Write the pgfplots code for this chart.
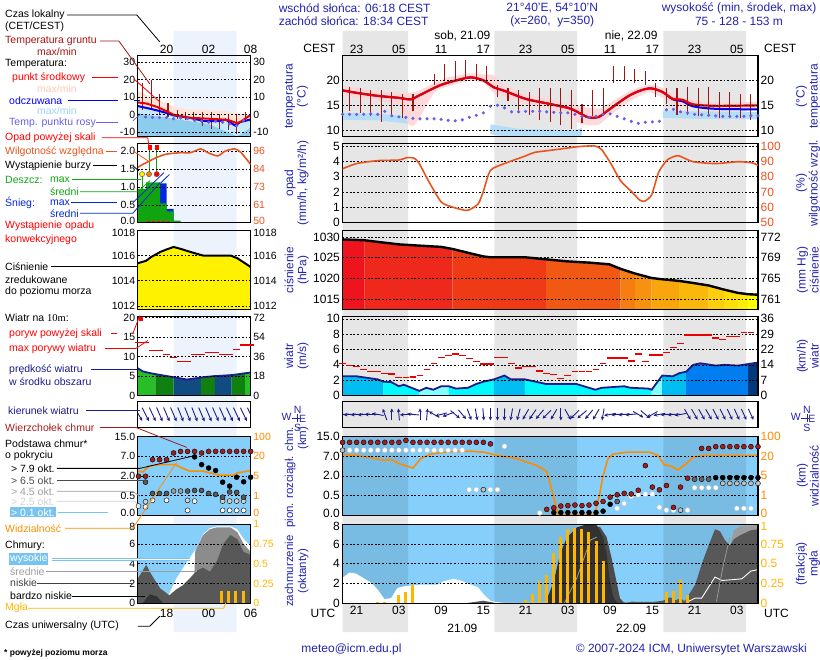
\documentclass[border=0pt]{standalone}
\usepackage{pgfplots}
\pgfplotsset{compat=1.18}
\usetikzlibrary{arrows.meta}
\usepackage{fontspec}
\setmainfont{Liberation Sans}
\newfontfamily\serifnum{Liberation Serif}

\definecolor{ttl}{RGB}{35,35,175}
\definecolor{night}{RGB}{230,230,230}
\definecolor{lband}{RGB}{236,243,253}
\definecolor{tred}{RGB}{232,0,0}
\definecolor{tblue}{RGB}{0,0,235}
\definecolor{gtemp}{RGB}{165,20,20}
\definecolor{dewc}{RGB}{105,95,230}
\definecolor{tpink}{RGB}{255,214,214}
\definecolor{tlblue}{RGB}{180,222,248}
\definecolor{mpink}{RGB}{255,228,218}
\definecolor{mlblue}{RGB}{200,235,250}
\definecolor{mblue}{RGB}{140,205,238}
\definecolor{humc}{RGB}{232,84,30}
\definecolor{windc}{RGB}{28,28,140}
\definecolor{gustc}{RGB}{235,0,0}
\definecolor{skyb}{RGB}{133,207,250}
\definecolor{visc}{RGB}{255,140,0}
\definecolor{fogc}{RGB}{255,182,0}
\definecolor{ctop}{RGB}{165,28,28}
\definecolor{hilite}{RGB}{120,196,240}
\definecolor{wc1}{RGB}{0,190,242}
\definecolor{wc2}{RGB}{0,250,255}
\definecolor{wc3}{RGB}{130,255,255}
\definecolor{wc4}{RGB}{0,125,238}
\definecolor{wc5}{RGB}{0,58,125}
\definecolor{mg1}{RGB}{40,190,40}
\definecolor{mg2}{RGB}{16,128,16}
\definecolor{mb1}{RGB}{16,76,130}
\definecolor{rain}{RGB}{16,165,16}
\definecolor{snow}{RGB}{0,40,220}
\definecolor{pr1}{RGB}{237,20,30}
\definecolor{pr2}{RGB}{238,40,26}
\definecolor{pr3}{RGB}{239,58,22}
\definecolor{pr4}{RGB}{241,88,20}
\definecolor{pr5}{RGB}{245,125,18}
\definecolor{pr6}{RGB}{247,145,16}
\definecolor{pr7}{RGB}{249,165,14}
\definecolor{pr8}{RGB}{251,184,12}
\definecolor{pr9}{RGB}{253,206,10}
\definecolor{pr10}{RGB}{254,222,8}
\definecolor{pr10b}{RGB}{255,236,4}
\definecolor{pr11}{RGB}{255,255,0}
\definecolor{cgA}{RGB}{50,50,50}
\definecolor{cgB}{RGB}{75,75,75}
\definecolor{cgC}{RGB}{88,88,88}
\definecolor{cgM}{RGB}{156,156,156}

\pgfplotsset{
  /pgf/number format/assume math mode=true,
  /pgf/number format/1000 sep={},
  common/.style={scale only axis, scaled ticks=false, major tick length=0pt,
    minor tick length=0pt, tick style={draw=none}, minor tick style={draw=none},
    ticklabel style={font=\fontsize{12}{12}\selectfont, inner sep=2.5pt}},
  panel/.style={common, axis on top, axis line style={line width=1.1pt},
    grid style={black, line width=0.55pt, dash pattern=on 1.8pt off 1.8pt},
    minor grid style={black, line width=0.55pt, dash pattern=on 1.8pt off 1.8pt},
    xminorgrids, xtick=\empty},
  mainp/.style={panel, width=416pt, xmin=-5, xmax=54, minor xtick={-3,0,...,51}},
  minip/.style={panel, width=113pt, xmin=13.9, xmax=30, minor xtick={15,18,...,27},
    ticklabel style={font=\fontsize{10.5}{10.5}\selectfont}},
  ovl/.style={common, axis line style={draw=none}, xtick=\empty, yticklabel pos=right},
  ovlmain/.style={ovl, width=416pt, xmin=-5, xmax=54},
  ovlmini/.style={ovl, width=113pt, xmin=13.9, xmax=30,
    ticklabel style={font=\fontsize{10.5}{10.5}\selectfont}},
  lowup/.style={extra y tick style={grid=none, yticklabel style={yshift=2.2pt, #1}}},
  topdown/.style={extra y tick style={grid=none, yticklabel style={yshift=-2.2pt, #1}}},
}

\begin{document}
\begin{tikzpicture}
\path (0pt,0pt) rectangle (820pt,660pt);

% ---------- background bands ----------
\begin{axis}[scale only axis, hide axis, at={(343pt,27pt)}, anchor=south west,
  width=416pt, height=602pt, xmin=-5, xmax=54, ymin=0, ymax=1]
\addplot[fill=night, draw=none] coordinates {(-5,0) (-5,1) (4.3,1) (4.3,0)} \closedcycle;
\addplot[fill=night, draw=none] coordinates {(16.57,0) (16.57,1) (28.3,1) (28.3,0)} \closedcycle;
\addplot[fill=night, draw=none] coordinates {(40.57,0) (40.57,1) (52.3,1) (52.3,0)} \closedcycle;
\end{axis}
\begin{axis}[scale only axis, hide axis, at={(138pt,27pt)}, anchor=south west,
  width=113pt, height=602pt, xmin=13.9, xmax=30, ymin=0, ymax=1]
\addplot[fill=lband, draw=none] coordinates {(19,0) (19,1) (28,1) (28,0)} \closedcycle;
\end{axis}

% ================= MAIN PANELS =================
% ---- temperature ----
\begin{axis}[mainp, at={(343pt,604pt)}, anchor=north west, height=81pt,
  ymin=8.7, ymax=24.9, ytick={10,15,20}, ymajorgrids]
\addplot[fill=tlblue, draw=none] coordinates {(-5,13.5) (0,13.3) (4.5,12.8) (4.5,11.3) (0,12.0) (-5,12.1)} -- cycle;
\addplot[fill=tlblue, draw=none] coordinates {(16,11.2) (20,10.3) (28,10.0) (29,10.5) (29,9.0) (28,8.5) (20,8.5) (16,9.2)} -- cycle;
\addplot[fill=tlblue, draw=none] coordinates {(40.5,13.9) (45,13.8) (54,13.7) (54,12.2) (45,12.3) (40.5,12.5)} -- cycle;
\addplot[fill=tpink, draw=none, fill opacity=0.9, smooth, tension=0.4] coordinates {(-5,19.0) (0,17.8) (3,17.5) (4.5,17.5) (6,18.0) (8,19.5) (10,20.6) (13,21.4) (15,21.2) (16.5,21.0) (18,19.0) (21,17.2) (24,16.3) (27,15.4) (28.5,15.0) (30,14.5) (31.5,14.4) (33,15.5) (36,18.0) (38.5,19.1) (40.5,18.5) (42,17.0) (45,16.0) (48,15.6) (54,15.6)
 (54,14.3) (48,14.2) (45,14.4) (42,15.2) (40.5,16.5) (38.5,17.6) (36,16.0) (33,13.0) (31.5,11.2) (30,11.0) (28.5,11.5) (27,13.3) (24,14.4) (21,15.3) (18,16.8) (16.5,17.5) (15,19.5) (13,19.9) (10,18.8) (8,17.5) (5.5,11.5) (4.5,11.0) (3,15.0) (0,15.9) (-5,17.0)} -- cycle;
\addplot[only marks, mark=*, mark size=1.4pt, dewc] coordinates {(-5,13.2) (-4,13.2) (-3,13.2) (-2,13.2) (-1,13.3) (0,13.2) (1,13.8) (2,12.9) (3,12.7) (4,12.6) (5,12.4) (6,12.3) (7,12.3) (8,12.3) (9,12.2) (10,12.0) (11,11.9) (12,12.1) (13,12.6) (14,13.0) (15,13.5) (16,14.8) (17,15.0) (18,14.5) (19,13.7) (20,13.7) (21,13.8) (22,13.8) (23,13.8) (24,13.7) (25,13.6) (26,13.5) (27,13.5) (28,13.2) (29,12.8) (30,12.6) (31,12.8) (32,13.2) (33,13.3) (34,12.8) (35,12.3) (36,11.8) (37,11.4) (38,11.6) (39,11.7) (40,11.8) (41,14.1) (42,14.2) (43,13.7) (44,13.5) (45,13.2) (46,13.1) (47,13.0) (48,12.9) (49,12.8) (50,12.8) (51,12.8) (52,12.8) (53,12.9) (54,12.9)};
\addplot[gtemp, line width=1.1pt, unbounded coords=jump] coordinates {
(-4,13.8) (-4,18.6) (-4,nan) (-2.5,13.5) (-2.5,18.4) (-2.5,nan) (-1,12.8) (-1,18.0) (-1,nan)
(0.5,11.7) (0.5,18.0) (0.5,nan) (2,12.8) (2,17.7) (2,nan) (3.5,12.4) (3.5,17.3) (3.5,nan)
(5,13.8) (5,17.3) (5,nan) (8,19.1) (8,21.2) (8,nan) (9.5,19.8) (9.5,23.3) (9.5,nan)
(11,20.1) (11,23.8) (11,nan) (12.5,20.5) (12.5,24.0) (12.5,nan) (14,20.1) (14,23.3) (14,nan)
(15.5,20.1) (15.5,22.9) (15.5,nan) (17,16.6) (17,19.1) (17,nan) (18.5,15.9) (18.5,18.4) (18.5,nan)
(20,13.8) (20,18.0) (20,nan) (21.5,13.1) (21.5,17.7) (21.5,nan) (23,12.1) (23,18.4) (23,nan)
(24.5,11.7) (24.5,18.4) (24.5,nan) (26,11.0) (26,18.4) (26,nan) (27.5,10.3) (27.5,18.0) (27.5,nan)
(29,11.4) (29,15.2) (29,nan) (30.5,12.8) (30.5,18.0) (30.5,nan) (32,12.8) (32,18.4) (32,nan)
(33.5,19.4) (33.5,22.9) (33.5,nan) (35,19.8) (35,22.9) (35,nan) (36.5,19.4) (36.5,22.2) (36.5,nan)
(38,19.1) (38,21.9) (38,nan) (39.5,16.6) (39.5,19.4) (39.5,nan) (41,15.2) (41,18.4) (41,nan)
(42.5,13.1) (42.5,18.4) (42.5,nan) (44,13.1) (44,18.6) (44,nan) (45.5,12.8) (45.5,18.4) (45.5,nan)
(47,12.8) (47,18.6) (47,nan) (48.5,12.4) (48.5,17.7) (48.5,nan) (50,12.4) (50,17.7) (50,nan)
(51.5,12.4) (51.5,17.3) (51.5,nan) (53,12.1) (53,17.3)};
\addplot[tblue, line width=2pt, smooth, tension=0.5] coordinates {(-5,18.0) (-3,17.5) (0,16.9) (3,16.5) (4.7,16.2) (5.9,17.0) (9,19.1) (12,20.3) (13.3,20.6) (15,20.0) (16.5,18.6) (18,17.9) (21,16.3) (24,15.4) (27,14.5) (28.2,13.8) (29.9,12.6) (31.4,12.7) (32.9,14.2) (35.9,17.1) (38.5,18.4) (40.4,17.7) (41.9,16.2) (43.3,15.8) (44.8,14.8) (48,14.3) (54,14.2)};
\addplot[tred, line width=2.2pt, smooth, tension=0.5] coordinates {(-5,18.0) (-3,17.5) (0,16.9) (3,16.5) (4.7,16.2) (5.9,17.0) (9,19.1) (12,20.3) (13.3,20.6) (15,20.0) (16.5,18.6) (18,17.9) (21,16.3) (24,15.4) (27,14.5) (28.2,13.8) (29.9,12.6) (31.4,12.7) (32.9,14.2) (35.9,17.1) (38.5,18.4) (40.4,17.7) (41.9,16.3) (43.3,16.1) (44.8,15.2) (48,14.9) (54,15.0)};
\end{axis}
\begin{axis}[ovlmain, at={(343pt,604pt)}, anchor=north west, height=81pt,
  ymin=8.7, ymax=24.9, ytick={10,15,20},
  xtick={-3,3,...,51}, xticklabels={23,05,11,17,23,05,11,17,23,05}, xticklabel pos=upper]
\end{axis}

% ---- precipitation / humidity ----
\begin{axis}[mainp, at={(343pt,516pt)}, anchor=north west, height=79pt,
  ymin=0, ymax=5.15, ytick={0,1,...,5}, ymajorgrids]
\end{axis}
\begin{axis}[ovlmain, at={(343pt,516pt)}, anchor=north west, height=79pt,
  ymin=50, ymax=101.5, ytick={50,60,...,100}, yticklabel style={text=humc}]
\addplot[humc, line width=1.6pt, smooth, tension=0.4] coordinates {(-5,85.2) (-3,88.6) (0,90.5) (3,90.9) (4.2,92.5) (5.2,92.0) (5.9,88.6) (7.2,77.3) (9,63.6) (10.6,60.2) (12.5,58.0) (13.3,59.1) (14.3,62.5) (15,70.5) (16,84.1) (18,88.6) (21,93.6) (22.3,95.9) (25.3,97.7) (28.2,99.5) (29.6,100) (30.9,100) (31.8,97.7) (33.1,88.6) (34.5,77.3) (36,70.5) (37.2,64.8) (37.9,64.1) (38.9,68.2) (39.9,83) (41.1,90.9) (42.1,93.2) (42.8,93.6) (44.8,89.8) (48,88.6) (51.2,89.8) (53.1,89.1) (54,87.5)};
\end{axis}

% ---- pressure ----
\begin{axis}[mainp, at={(343pt,429pt)}, anchor=north west, height=79pt,
  ymin=1012.5, ymax=1031.5, ytick={1015,1020,1025,1030}, ymajorgrids]
\addplot[fill=pr1, draw=none] coordinates {(-5,1029.4) (-1.9,1029.2)} \closedcycle;
\addplot[fill=pr2, draw=none] coordinates {(-1.9,1029.2) (0,1028.8) (3,1028.2) (5.9,1027.9) (9,1027.6) (10.6,1027.1)} \closedcycle;
\addplot[fill=pr3, draw=none] coordinates {(10.6,1027.1) (13.5,1025.9) (15,1025.3) (16,1025.1) (18.9,1025.1) (20.9,1025.1) (23.9,1024.6)} \closedcycle;
\addplot[fill=pr4, draw=none] coordinates {(23.9,1024.6) (27,1024.1) (30.1,1023.8) (32.9,1023.4) (34.5,1022.3)} \closedcycle;
\addplot[fill=pr5, draw=none] coordinates {(34.5,1022.3) (36.5,1021.2)} \closedcycle;
\addplot[fill=pr6, draw=none] coordinates {(36.5,1021.2) (38.9,1020.1)} \closedcycle;
\addplot[fill=pr7, draw=none] coordinates {(38.9,1020.1) (40.4,1019.8) (42.8,1019.4)} \closedcycle;
\addplot[fill=pr8, draw=none] coordinates {(42.8,1019.4) (44.8,1018.9) (47,1018.3)} \closedcycle;
\addplot[fill=pr9, draw=none] coordinates {(47,1018.3) (49.2,1017.3)} \closedcycle;
\addplot[fill=pr10, draw=none] coordinates {(49.2,1017.3) (51.2,1016.5)} \closedcycle;
\addplot[fill=pr10b, draw=none] coordinates {(51.2,1016.5) (52.6,1016.2)} \closedcycle;
\addplot[fill=pr11, draw=none] coordinates {(52.6,1016.2) (53.8,1016.1) (54,1016.1)} \closedcycle;
\addplot[black, line width=2.4pt] coordinates {(-5,1029.4) (-1.9,1029.2) (0,1028.8) (3,1028.2) (5.9,1027.9) (9,1027.6) (10.6,1027.1) (13.5,1025.9) (15,1025.3) (16,1025.1) (18.9,1025.1) (20.9,1025.1) (23.9,1024.6) (27,1024.1) (30.1,1023.8) (32.9,1023.4) (34.5,1022.3) (36.5,1021.2) (38.9,1020.1) (40.4,1019.8) (42.8,1019.4) (44.8,1018.9) (47,1018.3) (49.2,1017.3) (51.2,1016.5) (52.6,1016.2) (53.8,1016.1) (54,1016.1)};
\end{axis}
\begin{axis}[ovlmain, at={(343pt,429pt)}, anchor=north west, height=79pt,
  ymin=1012.5, ymax=1031.5, ytick={1015,1020,1025,1030}, yticklabels={761,765,769,772}]
\end{axis}

% ---- wind ----
\begin{axis}[mainp, at={(343pt,343pt)}, anchor=north west, height=79pt,
  ymin=0, ymax=10.3, ytick={0,2,...,10}, ymajorgrids]
\addplot[fill=wc1, draw=none] coordinates {(-5,2.5) (-3,2.5) (0,2.1) (0.8,1.8)} \closedcycle;
\addplot[fill=wc2, draw=none] coordinates {(0.8,1.8) (1.9,1.75) (3,1.2) (3.7,1.4) (5.9,0.6)} \closedcycle;
\addplot[fill=wc3, draw=none] coordinates {(5.9,0.6) (6.9,1.0) (7.9,0.75) (9,1.2) (10.1,1.2)} \closedcycle;
\addplot[fill=wc2, draw=none] coordinates {(10.1,1.2) (11.1,0.9) (12.8,1.0) (14,1.5) (15,1.8) (16.5,2.1)} \closedcycle;
\addplot[fill=wc1, draw=none] coordinates {(16.5,2.1) (18,2.6) (18.9,2.1) (20.9,2.1)} \closedcycle;
\addplot[fill=wc2, draw=none] coordinates {(20.9,2.1) (23.9,1.5) (27,1.5) (28.2,1.5) (30.9,0.75) (31.8,1.0) (35,1.2) (35.9,1.0) (38.4,0.9) (38.9,0.75)} \closedcycle;
\addplot[fill=wc3, draw=none] coordinates {(38.9,0.75) (40.4,2.6)} \closedcycle;
\addplot[fill=wc1, draw=none] coordinates {(40.4,2.6) (41.9,2.5) (42.8,2.9) (43.8,3.1)} \closedcycle;
\addplot[fill=wc4, draw=none] coordinates {(43.8,3.1) (44.8,4.0) (45.8,4.2) (48,3.9) (49.2,4.0) (51.2,3.9) (52.6,4.1)} \closedcycle;
\addplot[fill=wc5, draw=none] coordinates {(52.6,4.1) (54,4.3)} \closedcycle;
\addplot[windc, line width=1.8pt] coordinates {(-5,2.5) (-3,2.5) (0,2.1) (0.8,1.8) (1.9,1.75) (3,1.2) (3.7,1.4) (5.9,0.6) (6.9,1.0) (7.9,0.75) (9,1.2) (10.1,1.2) (11.1,0.9) (12.8,1.0) (14,1.5) (15,1.8) (16.5,2.1) (18,2.6) (18.9,2.1) (20.9,2.1) (23.9,1.5) (27,1.5) (28.2,1.5) (30.9,0.75) (31.8,1.0) (35,1.2) (35.9,1.0) (38.4,0.9) (38.9,0.75) (40.4,2.6) (41.9,2.5) (42.8,2.9) (43.8,3.1) (44.8,4.0) (45.8,4.2) (48,3.9) (49.2,4.0) (51.2,3.9) (52.6,4.1) (54,4.3)};
\addplot[only marks, mark=-, mark size=3.4pt, mark options={gustc, line width=1.3pt}] coordinates {(-5,4.2) (-4,3.9) (-3,3.8) (-2,3.4) (-1,3.1) (0,3.1) (1,2.9) (2,2.8) (3,2.3) (4,2.3) (5,2.4) (6,2.6) (7,3.4) (8,4.2) (9,5.0) (10,5.2) (11,5.4) (12,5.2) (13,4.8) (14,4.4) (15,4.1) (16,4.1) (17,5.0) (18,5.0) (19,4.2) (20,3.6) (21,3.8) (22,3.8) (23,3.2) (24,2.85) (25,2.7) (26,2.2) (27,2.6) (28,3.1) (29,3.1) (30,3.1) (31,3.4) (32,4.2) (33,4.9) (34,4.9) (35,4.9) (36,4.5) (37,5.4) (38,4.4) (39,5.3) (40,5.3) (41,5.6) (42,6.3) (43,6.8) (44,7.9) (45,7.9) (46,7.9) (47,7.9) (48,7.5) (49,7.3) (50,7.7) (51,7.7) (52,8.2) (53,8.2)};
\end{axis}
\begin{axis}[ovlmain, at={(343pt,343pt)}, anchor=north west, height=79pt,
  ymin=0, ymax=10.3, ytick={0,2,...,10}, yticklabels={0,7,14,22,29,36}]
\end{axis}

% ---- wind direction ----
\begin{axis}[mainp, at={(343pt,258pt)}, anchor=north west, height=26pt,
  ymin=0, ymax=26, ytick=\empty]
\addplot[windc, line width=0.9pt, -{Stealth[length=3.8pt,width=3.6pt]},
  quiver={u={12*cos(\thisrow{a})/7.0508}, v={12*sin(\thisrow{a})}}]
  table[x expr={\thisrow{h}-6*cos(\thisrow{a})/7.0508}, y expr={13-6*sin(\thisrow{a})}] {
h a
-5 185
-4 185
-3 185
-2 185
-1 180
0 170
1 110
2 90
3 95
4 185
5 175
6 90
7 85
8 150
9 195
10 200
11 320
12 310
13 290
14 280
15 275
16 270
17 270
18 268
19 260
20 255
21 240
22 235
23 230
24 225
25 240
26 270
27 300
28 225
29 220
30 230
31 240
32 260
33 190
34 185
35 185
36 185
37 330
38 320
39 210
40 190
41 185
42 185
43 190
44 300
45 300
46 300
47 300
48 298
49 297
50 296
51 295
52 295
53 295
};
\end{axis}

% ---- cloud base / visibility ----
\begin{axis}[mainp, at={(343pt,223pt)}, anchor=north west, height=79pt,
  ymin=0, ymax=4, ytick={1,2,3,4}, yticklabels={0.5,2.0,7.0,15.0}, ymajorgrids,
  extra y ticks={0}, extra y tick labels={0.0}, lowup={},
  axis background/.style={fill=skyb}]
\addplot[fill=black, fill opacity=0.09, draw=none] coordinates {(-5,0) (-5,4) (4.3,4) (4.3,0)} \closedcycle;
\addplot[fill=black, fill opacity=0.09, draw=none] coordinates {(16.57,0) (16.57,4) (28.3,4) (28.3,0)} \closedcycle;
\addplot[fill=black, fill opacity=0.09, draw=none] coordinates {(40.57,0) (40.57,4) (52.3,4) (52.3,0)} \closedcycle;
\addplot[visc, line width=1.6pt] coordinates {(-5,3.08) (-3.1,3.04) (-0.9,2.92) (1,2.78) (1.9,2.83) (3.1,2.61) (5,2.4) (6.1,2.87) (7.5,3.1) (9.9,3.22) (13.2,3.25) (15.1,3.2) (16.9,3.04) (19.8,2.87) (22.6,2.52) (24,2.23) (24.9,1.04) (25.6,0.03) (27.3,0.03) (30.8,0.03) (31.5,1.04) (32,2.0) (32.7,2.87) (33.4,3.1) (35.3,3.2) (38.6,3.2) (39.8,3.04) (40.7,2.56) (41.7,2.49) (42.6,2.30) (43.8,2.61) (44.7,2.92) (46.2,3.04) (54,3.04)};
\addplot[only marks, mark=*, mark size=2.5pt, mark options={draw=white!75!black, fill=white, line width=0.3pt}] coordinates {(-4,3.3) (-3,3.3) (-2,3.3) (-1,3.3) (0,3.3) (1,3.3) (2,3.3) (3,3.3) (4,3.3) (5,3.3) (6,3.3) (7,3.3) (8,3.3) (9,3.3) (10,3.3) (11,3.3) (12,3.3) (13,1.3) (14,1.3) (16,1.3) (17,1.3) (18,3.5) (23,0.12) (34,0.35) (35,0.6) (36,0.96) (37,1.04) (38,1.08) (39,1.08) (40,0.4) (41,0.26) (42,0.26) (44,0.26) (45,1.4) (46,1.4) (47,1.4) (48,1.4) (51,0.35) (52,0.35) (53,0.35)};
\addplot[only marks, mark=*, mark size=2.5pt, mark options={draw=none, fill=black!25}] coordinates {(-5,3.3) (15,1.3) (43,0.26) (49,1.62) (50,1.62) (51,1.62) (52,1.62) (53,1.62) (54,1.62)};
\addplot[only marks, mark=*, mark size=2.5pt, mark options={draw=none, fill=black!60}] coordinates {(34,0.7) (45,1.83) (46,1.83) (47,1.83)};
\addplot[only marks, mark=*, mark size=2.5pt, mark options={draw=none, fill=black}] coordinates {(25,0.14) (26,0.14) (27,0.14) (28,0.14) (29,0.14) (30,0.14) (31,0.14) (32,0.21) (33,0.56) (48,1.91) (49,1.91) (50,1.91) (51,1.91) (52,1.91) (53,1.91) (54,1.91)};
\addplot[only marks, mark=*, mark size=2.5pt, mark options={draw=none, fill=ctop}] coordinates {(-5,3.7) (-4,3.7) (-3,3.7) (-2,3.7) (-1,3.7) (0,3.7) (1,3.7) (2,3.7) (3,3.7) (4,3.8) (5,3.7) (6,3.7) (7,3.7) (8,3.7) (9,3.7) (10,3.7) (11,3.7) (12,3.7) (13,3.7) (14,3.7) (15,3.7) (16,3.62) (24,0.30) (25,0.38) (26,0.47) (27,0.49) (28,0.52) (29,0.49) (30,0.52) (31,0.61) (32,0.70) (33,0.92) (34,1.04) (35,1.11) (36,1.08) (37,1.27) (38,2.52) (39,1.43) (40,1.29) (41,1.51) (42,0.40) (43,1.43) (44,1.88) (46,3.39) (47,3.39) (48,3.48) (49,3.48) (50,3.48) (51,3.48) (52,3.48) (53,3.48) (54,3.48)};
\end{axis}
\begin{axis}[ovlmain, at={(343pt,223pt)}, anchor=north west, height=79pt,
  ymin=0, ymax=4, ytick={1,2,3,4}, yticklabels={1,5,20,100}, yticklabel style={text=visc},
  extra y ticks={0}, extra y tick labels={0}, lowup={text=visc}]
\end{axis}

% ---- clouds / fog ----
\begin{axis}[mainp, at={(343pt,135pt)}, anchor=north west, height=79pt,
  ymin=0, ymax=8, ytick={0,2,4,6}, ymajorgrids,
  extra y ticks={8}, extra y tick labels={8}, topdown={},
  axis background/.style={fill=skyb}]
\addplot[fill=black, fill opacity=0.09, draw=none] coordinates {(-5,0) (-5,8) (4.3,8) (4.3,0)} \closedcycle;
\addplot[fill=black, fill opacity=0.09, draw=none] coordinates {(16.57,0) (16.57,8) (28.3,8) (28.3,0)} \closedcycle;
\addplot[fill=black, fill opacity=0.09, draw=none] coordinates {(40.57,0) (40.57,8) (52.3,8) (52.3,0)} \closedcycle;
\addplot[fill=white, draw=none] coordinates {(-5,2.58) (-4,3.1) (-3.1,3.0) (-0.9,2.06) (0,1.37) (0.95,0.41) (1.9,0.52) (2.8,1.55) (3.8,1.72) (6.1,1.89) (8.5,1.89) (9.4,2.23) (10.8,2.47) (11.8,2.3) (13.2,1.89) (14.2,1.62) (15.1,0.86) (16,0.24) (17,0.1) (18,0.03) (54,0.03)} \closedcycle;
\addplot[fill=cgM, draw=none] coordinates {(49.3,0) (49.8,5.0) (50.3,6.6) (50.6,7.4) (51.5,7.8) (53,7.9) (54,7.95)} \closedcycle;
\addplot[fill=cgC, draw=none] coordinates {(12.5,0) (14,0.15) (15,0.25) (16.5,0.05) (17,0) (35,0) (36,0.15) (39,0.12) (40.5,0.25) (41.5,0.6) (42.3,0.3) (43,0.5) (43.6,0.2) (45.1,1.9) (46,3.95) (46.9,5.7) (47.9,7.5) (48.6,7.3) (49.3,6.4) (50,5.84) (50.6,6.5) (51.5,6.9) (53,7.4) (54,7.5)} \closedcycle;
\addplot[fill=cgB, draw=none] coordinates {(24.5,0) (25,0.3) (27.4,4.0) (28.8,7.2) (30.2,7.9) (31.6,7.7) (32.5,6.7) (33.2,4.6) (33.9,2.2) (34.4,0.5) (34.9,0.1) (35.5,0)} \closedcycle;
\addplot[fill=cgA, draw=none] coordinates {(23.8,0) (25,2.2) (25.9,5.0) (26.9,6.7) (28.3,7.7) (29.7,8.0) (31.1,7.9) (32,6.7) (32.5,5.0) (32.9,2.6) (33.4,0.7) (33.9,0.1) (34.2,0)} \closedcycle;
\addplot[white, line width=0.9pt] coordinates {(44.1,0.17) (45.1,0.52) (46,0.52) (47.9,2.65) (48.9,2.3) (51.7,2.47) (53,3.26) (54,3.4)};
\addplot[black!40, line width=0.8pt] coordinates {(26.5,0) (28.3,2.6) (30.2,6.4) (31.1,6.7)};
\addplot[black!40, line width=0.8pt] coordinates {(48.1,0.17) (49.0,3.6) (50.0,6.7)};
\addplot[ycomb, fogc, line width=3pt] coordinates {(0,0.16) (1,0.16) (3,0.8) (4,1.12) (5,1.84) (21,0.32) (22,0.96) (23,2.24) (24,2.88) (25,5.12) (26,6.72) (27,7.52) (28,7.6) (29,7.52) (30,7.2) (31,6.32) (32,4.32) (41,1.12) (42,1.28) (43,2.4) (44,0.8)};
\end{axis}
\begin{axis}[ovlmain, at={(343pt,135pt)}, anchor=north west, height=79pt,
  ymin=0, ymax=8, ytick={0,2,4,6}, yticklabels={0,0.25,0.5,0.75}, yticklabel style={text=fogc},
  extra y ticks={8}, extra y tick labels={1}, topdown={text=fogc},
  xtick={-3,3,...,51}, xticklabels={21,03,09,15,21,03,09,15,21,03}]
\end{axis}

% ================= MINI (legend) PANELS =================
% ---- mini temperature ----
\begin{axis}[minip, at={(138pt,604pt)}, anchor=north west, height=81pt,
  ymin=-12.6, ymax=33.5, ytick={-10,0,...,30}, ymajorgrids]
\addplot[fill=mblue, draw=none] coordinates {(13.9,1.0) (19,-2.3) (24,-5.2) (28,-12) (28.6,-11) (30,-7.1) (30,-12.6) (13.9,-12.6)} -- cycle;
\addplot[fill=mlblue, draw=none] coordinates {(13.9,5.0) (15.1,4.0) (17.1,2.0) (19,-0.5) (21.2,-2.3) (24,-3.0) (26.4,-3.5) (28,-5.5) (30,-2.0) (30,-7.1) (28.6,-11) (28,-12) (24,-5.2) (19,-2.3) (13.9,1.0)} -- cycle;
\addplot[fill=mpink, draw=none] coordinates {(13.9,13.8) (15.1,11.2) (17.1,8.3) (19,4.5) (21.2,2.9) (24,2.5) (26.4,2.1) (28.1,0.6) (30,-0.4) (30,-2.0) (28,-5.5) (26.4,-3.5) (24,-3.0) (21.2,-2.3) (19,-0.5) (17.1,2.0) (15.1,4.0) (13.9,5.0)} -- cycle;
\addplot[only marks, mark=*, mark size=1.4pt, dewc] coordinates {(15,-1.3) (16,-1.6) (17,-1.6) (18,-1.6) (19,-2.3) (20,-1.9) (21,-2.3) (22,-3.3) (23,-3.7) (24,-4.3) (25,-3.7) (26,-4.3) (27,-5.2) (28,-6.2) (29,-3.3)};
\addplot[gtemp, line width=1.1pt, unbounded coords=jump] coordinates {
(14.6,2.5) (14.6,18.0) (14.6,nan) (15.8,2.5) (15.8,19.6) (15.8,nan) (17.0,0.6) (17.0,12.0) (17.0,nan)
(18.2,-1.3) (18.2,6.4) (18.2,nan) (19.5,-2.5) (19.5,2.5) (19.5,nan) (20.7,-3.3) (20.7,1.5) (20.7,nan)
(21.9,-3.7) (21.9,1.5) (21.9,nan) (23.1,-6.2) (23.1,1.5) (23.1,nan) (24.4,-8.1) (24.4,1.5) (24.4,nan)
(25.6,-8.1) (25.6,0.6) (25.6,nan) (26.8,-9.0) (26.8,0.0) (26.8,nan) (28.0,-10.9) (28.0,-0.4) (28.0,nan)
(29.2,-4.3) (29.2,1.5)};
\addplot[tblue, line width=2pt] coordinates {(13.9,4.9) (15.1,3.9) (16.6,2.5) (18,1.0) (19,-0.4) (21.2,-1.7) (23.5,-3.7) (25.4,-3.7) (26.4,-2.7) (27.8,-6.2) (28.5,-4.2) (30,-2.7)};
\addplot[tred, line width=2pt] coordinates {(13.9,7.0) (15.1,6.4) (16.6,4.5) (18,2.0) (19,0.0) (21.2,-1.7) (24,-2.3) (25.8,-2.7) (27,-3.3) (28,-4.8) (28.5,-4.2) (29.2,-2.3) (30,0.0)};
\end{axis}
\begin{axis}[ovlmini, at={(138pt,604pt)}, anchor=north west, height=81pt,
  ymin=-12.6, ymax=33.5, ytick={-10,0,...,30},
  xtick={18,24,30}, xticklabels={20,02,08}, xticklabel pos=upper,
  xticklabel style={font=\fontsize{12}{12}\selectfont}]
\end{axis}

% ---- mini precipitation ----
\begin{axis}[minip, at={(138pt,516pt)}, anchor=north west, height=79pt,
  ymin=0, ymax=2.21, ytick={0.5,1,1.5,2}, yticklabels={0.5,1.0,1.5,2.0}, ymajorgrids,
  extra y ticks={0}, extra y tick labels={0.0}, lowup={}]
\addplot[const plot, fill=snow, draw=none] coordinates {(17.1,1.10) (18.0,0.39) (19.0,0.39)} \closedcycle;
\addplot[const plot, fill=rain, draw=none] coordinates {(13.9,0.95) (15.1,1.13) (17.1,0.54) (18.0,0.32) (19.0,0.06) (20.0,0.06)} \closedcycle;
\addplot[rain, line width=1pt, unbounded coords=jump] coordinates {(14.5,0.95) (14.5,1.36) (14.5,nan) (15.6,1.36) (15.6,2.12) (15.6,nan) (16.6,1.36) (16.6,2.12)};
\addplot[snow, line width=0.8pt] coordinates {(17.1,1.10) (18.4,1.35)};
\addplot[red, line width=1.5pt, dash pattern=on 3pt off 2pt] coordinates {(15.2,0.02) (18.4,0.02)};
\addplot[only marks, mark=square*, mark size=1.7pt, red] coordinates {(15.6,2.12) (16.6,2.12)};
\addplot[only marks, mark=*, mark size=2.6pt, mark options={draw=black!70, fill=yellow}] coordinates {(14.5,1.36)};
\addplot[only marks, mark=*, mark size=2.6pt, mark options={draw=black!70, fill=orange}] coordinates {(15.5,1.36)};
\addplot[only marks, mark=*, mark size=2.6pt, mark options={draw=black!70, fill=red}] coordinates {(16.6,1.36)};
\end{axis}
\begin{axis}[ovlmini, at={(138pt,516pt)}, anchor=north west, height=79pt,
  ymin=50, ymax=100.83, ytick={61.5,73,84.5,96}, yticklabels={61,73,84,96}, yticklabel style={text=humc},
  extra y ticks={50}, extra y tick labels={50}, lowup={text=humc}]
\addplot[humc, line width=1.6pt, smooth, tension=0.4] coordinates {(13.9,85.7) (14.6,87.5) (15.6,89.8) (16.6,92.1) (18.0,94.2) (20.0,95.1) (21.4,95.1) (22.9,97.6) (23.8,95.3) (25.3,93.0) (26.3,96.0) (27.7,97.6) (28.6,95.3) (30.0,87.5)};
\end{axis}

% ---- mini pressure ----
\begin{axis}[minip, at={(138pt,429pt)}, anchor=north west, height=79pt,
  ymin=1011.7, ymax=1018, ytick={1012,1014,1016}, ymajorgrids,
  extra y ticks={1018}, extra y tick labels={1018}, topdown={}]
\addplot[fill=yellow, draw=none] coordinates {(13.9,1015.4) (15.1,1015.6) (15.8,1015.9) (17.1,1016.3) (18,1016.5) (19,1016.7) (20,1016.55) (21.4,1016.3) (23.3,1016.0) (27.2,1016.0) (28.1,1015.8) (30,1015.1)} \closedcycle;
\addplot[black, line width=2pt] coordinates {(13.9,1015.4) (15.1,1015.6) (15.8,1015.9) (17.1,1016.3) (18,1016.5) (19,1016.7) (20,1016.55) (21.4,1016.3) (23.3,1016.0) (27.2,1016.0) (28.1,1015.8) (30,1015.1)};
\end{axis}
\begin{axis}[ovlmini, at={(138pt,429pt)}, anchor=north west, height=79pt,
  ymin=1011.7, ymax=1018, ytick={1012,1014,1016},
  extra y ticks={1018}, extra y tick labels={1018}, topdown={}]
\end{axis}

% ---- mini wind ----
\begin{axis}[minip, at={(138pt,343pt)}, anchor=north west, height=79pt,
  ymin=0, ymax=20.3, ytick={0,5,...,20}, ymajorgrids]
\addplot[fill=mg1, draw=none] coordinates {(13.9,7.0) (14.6,6.2) (15.8,5.7) (16.4,5.5)} \closedcycle;
\addplot[fill=mg2, draw=none] coordinates {(16.4,5.5) (18,5.0) (19,4.7)} \closedcycle;
\addplot[fill=mb1, draw=none] coordinates {(19,4.7) (20.9,4.1) (22.9,4.6)} \closedcycle;
\addplot[fill=mg2, draw=none] coordinates {(22.9,4.6) (23.3,4.7) (24.9,5.0)} \closedcycle;
\addplot[fill=mb1, draw=none] coordinates {(24.9,5.0) (25.2,5.0) (27.3,5.25)} \closedcycle;
\addplot[fill=mg2, draw=none] coordinates {(27.3,5.25) (27.6,5.3) (29.1,5.7) (29.2,5.7)} \closedcycle;
\addplot[fill=mg1, draw=none] coordinates {(29.2,5.7) (30,5.9)} \closedcycle;
\addplot[windc, line width=1.8pt] coordinates {(13.9,7.0) (14.6,6.2) (15.8,5.7) (16.4,5.5) (18,5.0) (19,4.7) (20.9,4.1) (22.9,4.6) (23.3,4.7) (24.9,5.0) (25.2,5.0) (27.3,5.25) (27.6,5.3) (29.1,5.7) (29.2,5.7) (30,5.9)};
\addplot[only marks, mark=-, mark size=3.5pt, mark options={gustc, line width=1.3pt}] coordinates {(14,13.7) (15,13.7) (16,11.6) (17,11.6) (18,10.6) (19,9.7) (20,8.8) (21,8.8) (22,10.6) (23,10.6) (24,11.0) (25,11.0) (26,10.6) (27,10.6) (28,11.9) (29,13.0) (30,13.0)};
\addplot[only marks, mark=square*, mark size=1.7pt, red] coordinates {(14.3,19.7)};
\end{axis}
\begin{axis}[ovlmini, at={(138pt,343pt)}, anchor=north west, height=79pt,
  ymin=0, ymax=20.3, ytick={0,5,...,20}, yticklabels={0,18,36,54,72}]
\end{axis}

% ---- mini wind direction ----
\begin{axis}[minip, at={(138pt,258pt)}, anchor=north west, height=26pt,
  ymin=0, ymax=26, ytick=\empty]
\addplot[windc, line width=0.9pt, -{Stealth[length=3.8pt,width=3.6pt]},
  quiver={u={15*cos(\thisrow{a})/7.0186}, v={15*sin(\thisrow{a})}}]
  table[x expr={\thisrow{h}-7.5*cos(\thisrow{a})/7.0186}, y expr={13-7.5*sin(\thisrow{a})}] {
h a
14 300
15 297
16 295
17 293
18 293
19 293
20 292
21 292
22 292
23 293
24 293
25 294
26 294
27 295
28 295
29 296
30 296
};
\end{axis}

% ---- mini cloud base ----
\begin{axis}[minip, at={(138pt,223pt)}, anchor=north west, height=79pt,
  ymin=0, ymax=4, ytick={1,2,3,4}, yticklabels={0.5,2.0,7.0,15.0}, ymajorgrids,
  extra y ticks={0}, extra y tick labels={0.0}, lowup={},
  axis background/.style={fill=skyb}]
\addplot[visc, line width=1.6pt] coordinates {(13.9,2.24) (14.6,2.2) (15.5,2.49) (17,2.57) (19.2,2.57) (20.2,2.4) (21.3,2.24) (23.2,2.24) (24.2,2.15) (25.7,2.03) (27.6,2.03) (28.1,2.15) (30,2.27)};
\addplot[only marks, mark=*, mark size=2.5pt, mark options={draw=none, fill=white}] coordinates {(14,0.47) (15,0.42) (16,0.76) (18,0.76) (21,0.25) (22,0.72) (26,0.25) (27,0.25) (28,0.25) (29,0.25)};
\addplot[only marks, mark=*, mark size=2.5pt, mark options={draw=none, fill=black!18}] coordinates {(15,0.69) (21,0.76) (26,0.72) (27,0.72) (28,0.72) (29,0.72)};
\addplot[only marks, mark=*, mark size=2.5pt, mark options={draw=none, fill=black!38}] coordinates {(19,1.23) (20,1.23)};
\addplot[only marks, mark=*, mark size=2.5pt, mark options={draw=none, fill=black!65}] coordinates {(15,1.68) (16,1.11) (17,1.11) (18,1.11) (21,1.23) (22,1.26) (23,1.26) (24,1.11) (25,1.06) (26,0.92) (27,1.18) (28,1.16) (29,0.92)};
\addplot[only marks, mark=*, mark size=2.5pt, mark options={draw=none, fill=black}] coordinates {(22,2.96) (23,2.57) (24,2.4) (25,2.27) (26,1.68) (27,1.48) (28,1.93) (29,1.7) (30,1.93)};
\addplot[only marks, mark=*, mark size=2.5pt, mark options={draw=none, fill=ctop}] coordinates {(14,1.98) (15,1.98) (16,2.82) (17,2.82) (18,2.82) (19,3.16) (20,3.24) (21,3.24) (22,3.24) (23,3.16) (24,3.24) (25,3.24) (26,3.24) (27,3.24) (28,3.24) (29,3.24) (30,3.24)};
\end{axis}
\begin{axis}[ovlmini, at={(138pt,223pt)}, anchor=north west, height=79pt,
  ymin=0, ymax=4, ytick={1,2,3,4}, yticklabels={1,5,20,100}, yticklabel style={text=visc},
  extra y ticks={0}, extra y tick labels={0}, lowup={text=visc}]
\end{axis}

% ---- mini clouds ----
\begin{axis}[minip, at={(138pt,135pt)}, anchor=north west, height=79pt,
  ymin=0, ymax=8, ytick={0,2,4,6}, ymajorgrids,
  extra y ticks={8}, extra y tick labels={8}, topdown={},
  axis background/.style={fill=skyb}]
\addplot[fill=white, draw=none] coordinates {(13.9,0) (17.5,0) (18.4,1.0) (19.4,2.5) (20.3,3.5) (21.3,4.6) (22.3,5.6) (23.2,7.0) (24.2,7.6) (25.2,7.8) (27.1,7.8) (28.1,7.5) (29,6.5) (30,5.8)} \closedcycle;
\addplot[fill=black!45, draw=none] coordinates {(13.9,0) (21.8,0) (22.1,5.3) (23.2,6.9) (24.2,7.5) (25.2,7.7) (27.1,7.7) (28.1,7.2) (29,6.0) (30,5.2)} \closedcycle;
\addplot[fill=cgC, draw=none] coordinates {(13.9,2.5) (14.6,3.3) (15.1,3.9) (15.6,3.2) (16.1,2.6) (17.1,1.5) (18.4,0.8) (19.4,1.4) (20.3,1.8) (21.3,2.5) (22.3,3.3) (23.2,3.6) (24.2,3.2) (25.2,4.3) (26.1,6.0) (27.1,6.9) (28.1,6.5) (29,5.2) (30,4.9)} \closedcycle;
\addplot[fill=black!80, draw=none] coordinates {(14.6,0) (15.6,0.9) (16.6,0.7) (17.5,0)} \closedcycle;
\addplot[ycomb, fogc, line width=3pt] coordinates {(25.9,1.2) (26.9,1.2) (27.9,1.2) (29,1.2)};
\end{axis}
\begin{axis}[ovlmini, at={(138pt,135pt)}, anchor=north west, height=79pt,
  ymin=0, ymax=8, ytick={2,4,6}, yticklabels={0.25,0.5,0.75}, yticklabel style={text=fogc},
  extra y ticks={0,8}, extra y tick labels={0,1},
  extra y tick style={grid=none, yticklabel style={text=fogc}},
  xtick={18,24,30}, xticklabels={18,00,06}, xticklabel style={font=\fontsize{12}{12}\selectfont, yshift=-3.5pt}]
\end{axis}

% ================= TEXT, TITLES, LEADERS =================
\begin{scope}[x=1pt, y=1pt, every node/.style={inner sep=0pt}]
\begin{scope}[every node/.append style={ttl, font=\fontsize{12}{12}\selectfont}]
\node[anchor=west] at (279,652) {wschód słońca: 06:18 CEST};
\node[anchor=west] at (279,639) {zachód słońca: 18:34 CEST};
\node at (553,652) {21°40'E, 54°10'N};
\node at (553,639) {(x=260,\ \ y=350)};
\node at (740,652) {wysokość (min, środek, max)};
\node at (740,639) {75 - 128 - 153 m};
\node at (352,10) {meteo@icm.edu.pl};
\node[anchor=east] at (808,10) {© 2007-2024 ICM, Uniwersytet Warszawski};
\end{scope}
\begin{scope}[every node/.append style={font=\fontsize{12}{12}\selectfont}]
\node at (463,624) {sob, 21.09};
\node at (632,624) {nie, 22.09};
\node[anchor=east] at (336,612) {CEST};
\node[anchor=west] at (765,612) {CEST};
\node[anchor=east] at (336,46) {UTC};
\node[anchor=west] at (765,46) {UTC};
\node at (463,31) {21.09};
\node at (632,31) {22.09};
\end{scope}
% axis titles
\begin{scope}[every node/.append style={ttl, rotate=90, align=center, font=\fontsize{12}{13}\selectfont}]
\node at (297,563.5) {temperatura\\(°C)};
\node at (297,476.5) {opad\\(mm/h, kg/m²/h)};
\node at (297,389.5) {ciśnienie\\(hPa)};
\node at (297,303.5) {wiatr\\(m/s)};
\node[align=right, font=\fontsize{11.5}{13}\selectfont] at (297,182) {pion. rozciągł. chm.\\(km)};
\node[font=\fontsize{11.5}{13}\selectfont] at (297,88) {zachmurzenie\\(oktanty)};
\node at (809,563.5) {(°C)\\temperatura};
\node at (809,476.5) {(\%)\\wilgotność wzgl.};
\node at (809,389.5) {(mm Hg)\\ciśnienie};
\node at (809,303.5) {(km/h)\\wiatr};
\node at (809,183.5) {(km)\\widzialność};
\node at (809,95.5) {(frakcja)\\mgła};
\end{scope}
% compass glyphs
\begin{scope}[every node/.append style={ttl, font=\fontsize{10.5}{10.5}\selectfont}]
\node at (287,243) {W}; \node at (298,250) {N}; \node at (303,241) {E}; \node at (298,232) {S};
\node at (797,243) {W}; \node at (808,250) {N}; \node at (813,241) {E}; \node at (808,232) {S};
\end{scope}
\draw[ttl, line width=0.6pt] (292,241) -- (300,241) (298,245) -- (298,237);
\draw[ttl, line width=0.6pt] (802,241) -- (810,241) (808,245) -- (808,237);

% left column labels
\begin{scope}[every node/.append style={anchor=west, font=\fontsize{10.5}{10.5}\selectfont}]
\node at (5,645) {Czas lokalny};
\node at (5,633) {(CET/CEST)};
\node[text=gtemp] at (5,619) {Temperatura gruntu};
\node[text=gtemp] at (37,608) {max/min};
\node at (5,595.5) {Temperatura:};
\node[text=red] at (12,582) {punkt środkowy};
\node[text={rgb,255:red,255;green,200;blue,185}] at (37,571) {max/min};
\node[text=blue] at (9,559.5) {odczuwana};
\node[text={rgb,255:red,160;green,210;blue,240}] at (37,549) {max/min};
\node[text=dewc] at (9,537) {Temp. punktu rosy};
\node[text=red] at (5,522) {Opad powyżej skali};
\node[text=humc] at (5,508) {Wilgotność względna};
\node at (5,494) {Wystąpienie burzy};
\node[text=rain] at (5,480) {Deszcz:};
\node[text=rain] at (50,480) {max};
\node[text=rain] at (50,468) {średni};
\node[text=snow] at (5,457) {Śnieg:};
\node[text=snow] at (50,457) {max};
\node[text=snow] at (50,446.5) {średni};
\node[text=red] at (5,433.5) {Wystąpienie opadu};
\node[text=red] at (5,420) {konwekcyjnego};
\node at (5,393) {Ciśnienie};
\node at (5,380) {zredukowane};
\node at (5,368) {do poziomu morza};
\node at (5,342) {Wiatr na {\serifnum 10m}:};
\node[text=red] at (9,326) {poryw powyżej skali};
\node[text=red] at (9,311) {max porywy wiatru};
\node[text=windc] at (9,290) {prędkość wiatru};
\node[text=windc] at (9,278) {w środku obszaru};
\node[text=windc] at (8,249) {kierunek wiatru};
\node[text=ctop] at (5,232) {Wierzchołek chmur};
\node at (5,216) {Podstawa chmur*};
\node at (5,204) {o pokryciu};
\node at (11,191) {> 7.9 okt.};
\node[text=black!70] at (11,179) {> 6.5 okt.};
\node[text=black!38] at (11,168) {> 4.5 okt.};
\node[text=black!18] at (11,158) {> 2.5 okt.};
\node[text=white, fill=hilite, inner sep=1pt] at (10,147) {> 0.1 okt.};
\node[text=visc] at (5,131) {Widzialność};
\node at (5,113) {Chmury:};
\node[text=white, fill=hilite, inner sep=1pt] at (9,100) {wysokie};
\node[text=black!38] at (10,88) {średnie};
\node[text=black!75] at (10,76) {niskie};
\node at (10,63) {bardzo niskie};
\node[text=fogc] at (5,51) {Mgła};
\node at (5,33) {Czas uniwersalny (UTC)};
\node[font=\bfseries\fontsize{8.5}{8.5}\selectfont] at (4,6) {* powyżej poziomu morza};
\end{scope}
% leader lines
\begin{scope}[line width=0.8pt]
\draw (67,645) -- (137,645) -- (160,618);
\draw[gtemp] (100,619) -- (119,619) -- (150,576);
\draw[red] (92,582) -- (118,582);
\draw[red] (134,581) -- (160,558);
\draw[blue] (68,559.5) -- (118,559.5);
\draw[blue] (134,559) -- (140,559);
\draw[dewc] (96,537) -- (118,537);
\draw[dewc] (133,539) -- (140,545);
\draw[red] (102,522) -- (148,522) -- (149,514);
\draw[humc] (106,508) -- (117,508);
\draw[humc] (133,509) -- (148,499);
\draw (93,494) -- (117,494);
\draw (133,494) -- (139,489);
\draw[rain] (72,480) -- (141,480);
\draw[rain] (80,468) -- (138,468) -- (150,479);
\draw[snow] (71,457) -- (117,457);
\draw[snow] (133,457) -- (164,487);
\draw[snow] (80,446.5) -- (133,446.5) -- (160,477);
\draw (51,393) -- (138,393);
\draw[red] (111,326) -- (117,326);
\draw[red] (133,326) -- (140,344);
\draw[red] (105,311) -- (136,311) -- (148,319);
\draw[windc] (91,290) -- (140,290);
\draw[windc] (86,249) -- (140,249);
\draw[ctop] (100,232) -- (136,232) -- (187,212);
\draw (57,191) -- (140,191) -- (196,204);
\draw[black!70] (57,179) -- (145,179);
\draw[black!38] (57,168) -- (133,168) -- (140,163);
\draw[black!18] (57,158) -- (135,158) -- (140,152);
\draw[hilite] (58,147) -- (108,147);
\draw[visc] (65,131) -- (133,131) -- (177,197);
\draw[hilite, line width=3pt] (52,100) -- (190,100);
\draw[white, line width=1pt] (52,100) -- (190,100);
\draw[black!38] (46,88) -- (197,88);
\draw[black!75] (37,76) -- (133,76);
\draw (72,63) -- (145,63);
\draw[fogc] (28,51) -- (224,51) -- (226,56);
\draw (138,33) -- (150,33) -- (160,43);
\end{scope}
\end{scope}
\end{tikzpicture}
\end{document}
